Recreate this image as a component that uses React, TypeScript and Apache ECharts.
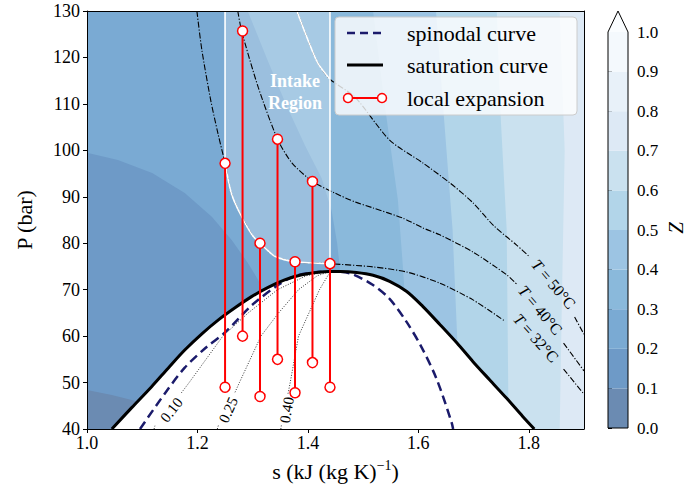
import React, { useEffect, useRef } from "react";
import * as echarts from "echarts";

const SERIF = '"Liberation Serif", "Times New Roman", serif';

// ---- axes ----
const S_MIN = 1.0, S_MAX = 1.9, S_STEP = 0.2;
const P_MIN = 40, P_MAX = 130, P_STEP = 10;

// ---- Z contour levels & colours (Blues_r, alpha 0.6) ----
const zLevels = [0, 0.1, 0.2, 0.3, 0.4, 0.5, 0.6, 0.7, 0.8, 0.9, 1.0];
const zColors = ["#6b8bb2", "#6e9ac7", "#7aaad3", "#8ab9db", "#9cc4e3", "#b2d5e9", "#cae1ef", "#dde9f5", "#e8f1f9", "#f4f9fd"];
const zOverColor = "#fafdff";

// ---- contour band boundaries (s, P) ----
const zB01 = [[1.0, 48.4], [1.045, 47.3], [1.09, 46.0]];
const zB02 = [[1.0, 99.5], [1.056, 97.9], [1.118, 95.1], [1.177, 90.8], [1.226, 85.7], [1.262, 80.7], [1.291, 75.8], [1.31, 72.1], [1.318, 70.0]];
const zB03 = [[1.291, 130], [1.325, 120], [1.36, 110], [1.395, 101], [1.425, 94], [1.443, 87], [1.453, 80], [1.458, 74.5]];
const zB04 = [[1.518, 130], [1.538, 110.8], [1.563, 89.3], [1.572, 75], [1.575, 69.5]];
const zB05 = [[1.632, 130], [1.644, 110.8], [1.662, 82.9], [1.671, 57.9]];
const zB06 = [[1.742, 130], [1.7475, 110.8], [1.76, 82.9], [1.763, 46.3]];
const zB07 = [[1.856, 130], [1.865, 100], [1.86, 67.8], [1.856, 40]];

// ---- saturation curve (liquid + vapour branch) ----
const satCurve = [
  [1.045, 40], [1.081, 44.6], [1.117, 49.1], [1.147, 53.1], [1.177, 57.0], [1.208, 60.5], [1.238, 63.5], [1.268, 66.1], [1.298, 68.5],
  [1.328, 70.5], [1.358, 72.1], [1.389, 73.2], [1.419, 73.75], [1.44, 73.9],
  [1.458, 73.9], [1.488, 73.7], [1.518, 73.1], [1.548, 71.8], [1.579, 69.6], [1.608, 66.4], [1.639, 62.5],
  [1.67, 58.5], [1.699, 54.5], [1.729, 50.6], [1.76, 46.6], [1.789, 42.7], [1.81, 40],
];

// ---- spinodal curve ----
const spinodal = [
  [1.096, 40], [1.14, 47.5], [1.177, 53.2], [1.215, 57.5], [1.25, 60.8], [1.299, 66.7],
  [1.346, 71.0], [1.376, 72.9], [1.41, 73.7], [1.44, 73.9], [1.476, 73.5], [1.518, 71.0],
  [1.548, 68.0], [1.579, 63.0], [1.605, 57.8], [1.633, 50.8], [1.66, 41.5], [1.663, 40],
];

// ---- vapour quality lines (null = gap for inline label) ----
const q10 = [[1.1215, 40], [1.123, 40.7], null, [1.171, 47.8], [1.185, 50], [1.246, 60], [1.292, 65], [1.345, 70], [1.397, 73], [1.433, 73.8]];
const q25 = [[1.236, 40], [1.238, 40.8], null, [1.268, 47.9], [1.276, 50], [1.315, 60], [1.347, 65], [1.383, 70], [1.417, 73], [1.437, 73.8]];
const q40 = [[1.351, 40], [1.352, 40.8], null, [1.364, 47.6], [1.368, 50], [1.383, 60], [1.402, 65], [1.421, 70], [1.436, 73], [1.442, 73.8]];
const qualityLabels = [
  { text: "0.10", s: 1.153, p: 44.1, rot: 52 },
  { text: "0.25", s: 1.256, p: 44.1, rot: 66 },
  { text: "0.40", s: 1.362, p: 44.1, rot: 80 },
];

// ---- isotherms ----
const isoT50 = [[1.38, 130], [1.4, 123.8], [1.418, 118.8], [1.44, 115.3], [1.485, 111.5], [1.548, 102.2], [1.608, 97.3], [1.657, 93.0], [1.699, 88.7], [1.737, 83.7], [1.778, 79.6], [1.802, 77.0], null, [1.883, 64.1], [1.9, 60.4]];
const isoT40 = [[1.273, 130], [1.28, 125.7], [1.31, 113.6], [1.345, 102.4], [1.371, 97.3], [1.4083, 93.3], [1.449, 90.8], [1.485, 88.9], [1.518, 87.6], [1.572, 85.4], [1.608, 83.3], [1.639, 81.8], [1.699, 78.1], [1.76, 73.2], [1.778, 71.2], null, [1.863, 58.5], [1.9, 52.5]];
const isoT32 = [[1.199, 130], [1.208, 121.6], [1.224, 110.8], [1.237, 103.7], [1.25, 97.2], [1.262, 90.5], [1.28, 85.7], [1.3, 81.6], [1.3133, 80.0], [1.322, 79.0], [1.34, 77.2], [1.3767, 76.0], [1.44, 75.6], [1.518, 74.9], [1.579, 73.8], [1.639, 71.4], [1.699, 67.8], [1.757, 63.2], null, [1.863, 52.9], [1.9, 47.5]];
const isoLabels = [
  { text: "50°C", s: 1.845, p: 71.2, rot: -50 },
  { text: "40°C", s: 1.821, p: 65.6, rot: -50 },
  { text: "32°C", s: 1.813, p: 59.6, rot: -48 },
];

// ---- intake region ----
const intakeS = [1.25, 1.44];

// ---- local expansions ----
const expS = [1.25, 1.2817, 1.3133, 1.345, 1.3767, 1.4083, 1.44];
const expTop = [97.2, 125.7, 80.0, 102.4, 76.0, 93.3, 75.6];
const expBot = [49.0, 60.0, 47.0, 55.0, 47.8, 54.3, 49.0];

// ---------- helpers ----------
const inIntake = (p: any) => p && p[0] >= intakeS[0] - 1e-9 && p[0] <= intakeS[1] + 1e-9;

function polygonSeries(pts: number[][], fill: string) {
  return {
    type: "custom", coordinateSystem: "cartesian2d", xAxisIndex: 0, yAxisIndex: 0,
    silent: true, data: [[1.5, 80]],
    renderItem: (_p: any, api: any) => ({
      type: "polygon",
      shape: { points: pts.map((q) => api.coord(q)) },
      style: { fill },
    }),
  };
}

function segments(pts: any[]) {
  const out: any[][] = [[]];
  pts.forEach((p) => (p ? out[out.length - 1].push(p) : out.push([])));
  return out.filter((s) => s.length > 1);
}

function lineSeries(pts: any[], color: string, width: number, type: any, smooth = 0.25) {
  return segments(pts).map((seg) => ({
    type: "line", xAxisIndex: 0, yAxisIndex: 0, data: seg, symbol: "none", showSymbol: false,
    smooth, silent: true, lineStyle: { color, width, type, cap: "butt" },
  }));
}

function textSeries(items: any[], size: number, rich: boolean) {
  return {
    type: "custom", coordinateSystem: "cartesian2d", xAxisIndex: 0, yAxisIndex: 0, silent: true,
    data: items.map((it) => [it.s, it.p]),
    renderItem: (params: any, api: any) => {
      const it = items[params.dataIndex];
      const c = api.coord([it.s, it.p]);
      return {
        type: "text", x: c[0], y: c[1], rotation: (it.rot * Math.PI) / 180,
        style: {
          text: rich ? "{i|T} = " + it.text : it.text,
          font: `${size}px ${SERIF}`, fill: "#000",
          align: "center", verticalAlign: "middle", textAlign: "center", textVerticalAlign: "middle",
          rich: rich ? { i: { fontStyle: "italic", fontSize: size, fontFamily: SERIF, fill: "#000" } } : undefined,
        },
      };
    },
  };
}

function buildOption() {
  const last = (a: number[][]) => a[a.length - 1];
  const bandsRight = [zB03, zB04, zB05, zB06, zB07].map((b, i) =>
    polygonSeries([...b, [last(b)[0], P_MIN], [S_MAX, P_MIN], [S_MAX, P_MAX]], zColors[3 + i])
  );
  const t32In = isoT32.filter(inIntake) as number[][];
  const t50In = isoT50.filter((p: any) => p && p[0] <= intakeS[1] + 1e-9) as number[][];
  const intakePoly = [[intakeS[0], P_MAX], ...t32In, [intakeS[1], P_MAX]];
  const isoDash = [6, 1.8, 1.2, 1.8];

  const series: any[] = [
    polygonSeries([[S_MIN, P_MIN], [S_MAX, P_MIN], [S_MAX, P_MAX], [S_MIN, P_MAX]], zColors[2]),
    ...bandsRight,
    polygonSeries([[S_MIN, P_MIN], ...zB02, [last(zB02)[0], P_MIN]], zColors[1]),
    polygonSeries([[S_MIN, P_MIN], ...zB01, [last(zB01)[0], P_MIN]], zColors[0]),
    polygonSeries(satCurve, "#ffffff"),
    ...lineSeries(q10, "#000", 0.8, [1, 1.6], 0),
    ...lineSeries(q25, "#000", 0.8, [1, 1.6], 0),
    ...lineSeries(q40, "#000", 0.8, [1, 1.6], 0),
    ...lineSeries(spinodal, "#1b1b6b", 2.5, [9, 5], 0.3),
    ...lineSeries(isoT50, "#000", 1.1, isoDash),
    ...lineSeries(isoT40, "#000", 1.1, isoDash),
    ...lineSeries(isoT32, "#000", 1.1, isoDash),
    polygonSeries(intakePoly, "rgba(255,255,255,0.25)"),
    ...lineSeries(t32In, "#fff", 1.6, "solid"),
    ...lineSeries(t50In, "#fff", 1.6, "solid"),
    ...lineSeries([[intakeS[0], t32In[0][1]], [intakeS[0], P_MAX]], "#fff", 1.6, "solid", 0),
    ...lineSeries([[intakeS[1], last(t32In)[1]], [intakeS[1], P_MAX]], "#fff", 1.6, "solid", 0),
    ...lineSeries(satCurve, "#000", 3, "solid", 0.3),
    textSeries(qualityLabels, 15, false),
    textSeries(isoLabels, 16, true),
    ...expS.map((s, i) => ({
      type: "line", xAxisIndex: 0, yAxisIndex: 0, silent: true,
      data: [[s, expTop[i]], [s, expBot[i]]],
      symbol: "circle", symbolSize: 10, showSymbol: true,
      lineStyle: { color: "#ff0000", width: 2 },
      itemStyle: { color: "#ffffff", borderColor: "#ff0000", borderWidth: 1.5 },
      z: 5,
    })),
    // colorbar
    {
      type: "custom", coordinateSystem: "cartesian2d", xAxisIndex: 2, yAxisIndex: 2, silent: true,
      data: zColors.map((_, i) => [0.5, (zLevels[i] + zLevels[i + 1]) / 2]),
      renderItem: (params: any, api: any) => {
        const i = params.dataIndex;
        const a = api.coord([0, zLevels[i]]);
        const b = api.coord([1, zLevels[i + 1]]);
        return { type: "rect", shape: { x: a[0], y: b[1], width: b[0] - a[0], height: a[1] - b[1] }, style: { fill: zColors[i] } };
      },
    },
    {
      type: "custom", coordinateSystem: "cartesian2d", xAxisIndex: 2, yAxisIndex: 2, silent: true,
      data: [[0.5, 1]], z: 4,
      renderItem: (_p: any, api: any) => {
        const bl = api.coord([0, 0]), tl = api.coord([0, 1]), tr = api.coord([1, 1]), br = api.coord([1, 0]);
        const apex = [(tl[0] + tr[0]) / 2, tl[1] - 21];
        return {
          type: "group",
          children: [
            { type: "polygon", shape: { points: [tl, tr, apex] }, style: { fill: zOverColor } },
            { type: "polygon", shape: { points: [bl, tl, apex, tr, br] }, style: { fill: "none", stroke: "#000", lineWidth: 1 } },
          ],
        };
      },
    },
  ];

  const spine = { show: true, onZero: false, lineStyle: { color: "#000", width: 1 } };
  const tick = { show: true, inside: false, length: 4, lineStyle: { color: "#000", width: 1 } };
  const lbl = { color: "#000", fontFamily: SERIF, fontSize: 18 };

  return {
    animation: false,
    backgroundColor: "#ffffff",
    grid: [
      { left: 87, top: 11, width: 497, height: 418 },
      { left: 608, top: 32, width: 20, height: 396 },
    ],
    xAxis: [
      {
        gridIndex: 0, type: "value", min: S_MIN, max: S_MAX, interval: S_STEP, z: 10,
        axisLine: spine, axisTick: tick, splitLine: { show: false },
        axisLabel: { ...lbl, margin: 5, showMaxLabel: false, formatter: (v: number) => (Math.abs(v - S_MAX) < 1e-6 ? "" : v.toFixed(1)) },
        name: "{n|s (kJ (kg K)}{sup|−1}{n|)}", nameLocation: "middle", nameGap: 29,
        nameTextStyle: {
          rich: {
            n: { fontFamily: SERIF, fontSize: 22, color: "#000", lineHeight: 26 },
            sup: { fontFamily: SERIF, fontSize: 14, color: "#000", verticalAlign: "top", lineHeight: 26 },
          },
        },
      },
      { gridIndex: 0, type: "value", position: "top", min: S_MIN, max: S_MAX, z: 10, axisLine: spine, axisTick: { show: false }, axisLabel: { show: false }, splitLine: { show: false } },
      { gridIndex: 1, type: "value", min: 0, max: 1, show: false },
    ],
    yAxis: [
      {
        gridIndex: 0, type: "value", min: P_MIN, max: P_MAX, interval: P_STEP, z: 10,
        axisLine: spine, axisTick: tick, splitLine: { show: false },
        axisLabel: { ...lbl, margin: 7 },
        name: "P (bar)", nameLocation: "middle", nameGap: 52,
        nameTextStyle: { fontFamily: SERIF, fontSize: 22, color: "#000" },
      },
      { gridIndex: 0, type: "value", position: "right", min: P_MIN, max: P_MAX, z: 10, axisLine: spine, axisTick: { show: false }, axisLabel: { show: false }, splitLine: { show: false } },
      {
        gridIndex: 1, type: "value", position: "right", min: 0, max: 1, interval: 0.1,
        axisLine: { show: false }, axisTick: tick, splitLine: { show: false },
        axisLabel: { color: "#000", fontFamily: SERIF, fontSize: 17, margin: 9, formatter: (v: number) => v.toFixed(1) },
      },
    ],
    series,
    graphic: [
      { type: "text", x: 295, y: 81, z: 50, style: { text: "Intake", fill: "#fff", font: `bold 18px ${SERIF}`, align: "center", verticalAlign: "middle", textAlign: "center", textVerticalAlign: "middle" } },
      { type: "text", x: 295, y: 103, z: 50, style: { text: "Region", fill: "#fff", font: `bold 18px ${SERIF}`, align: "center", verticalAlign: "middle", textAlign: "center", textVerticalAlign: "middle" } },
      { type: "rect", z: 100, shape: { x: 335, y: 17, width: 242, height: 98, r: 4 }, style: { fill: "rgba(255,255,255,0.8)", stroke: "#cccccc", lineWidth: 1 } },
      { type: "line", z: 101, shape: { x1: 347, y1: 33, x2: 383, y2: 33 }, style: { stroke: "#1b1b6b", lineWidth: 2.5, lineDash: [8, 5] } },
      { type: "line", z: 101, shape: { x1: 347, y1: 65, x2: 383, y2: 65 }, style: { stroke: "#000", lineWidth: 3 } },
      { type: "line", z: 101, shape: { x1: 348, y1: 98, x2: 382, y2: 98 }, style: { stroke: "#ff0000", lineWidth: 2 } },
      { type: "circle", z: 102, shape: { cx: 348, cy: 98, r: 4.5 }, style: { fill: "#fff", stroke: "#ff0000", lineWidth: 1.5 } },
      { type: "circle", z: 102, shape: { cx: 382, cy: 98, r: 4.5 }, style: { fill: "#fff", stroke: "#ff0000", lineWidth: 1.5 } },
      { type: "text", z: 101, x: 407, y: 33, style: { text: "spinodal curve", fill: "#000", font: `22px ${SERIF}`, verticalAlign: "middle", textVerticalAlign: "middle" } },
      { type: "text", z: 101, x: 407, y: 65, style: { text: "saturation curve", fill: "#000", font: `22px ${SERIF}`, verticalAlign: "middle", textVerticalAlign: "middle" } },
      { type: "text", z: 101, x: 407, y: 98, style: { text: "local expansion", fill: "#000", font: `22px ${SERIF}`, verticalAlign: "middle", textVerticalAlign: "middle" } },
      { type: "text", z: 101, x: 676, y: 228, rotation: Math.PI / 2, style: { text: "Z", fill: "#000", font: `italic 21px ${SERIF}`, align: "center", verticalAlign: "middle", textAlign: "center", textVerticalAlign: "middle" } },
    ],
  };
}

export default function App() {
  const ref = useRef<HTMLDivElement>(null);
  useEffect(() => {
    const chart = echarts.init(ref.current as HTMLDivElement, null, { renderer: "svg" });
    chart.setOption(buildOption() as any);
    return () => chart.dispose();
  }, []);
  return <div ref={ref} style={{ position: "fixed", left: 0, top: 0, width: 694, height: 495 }} />;
}
